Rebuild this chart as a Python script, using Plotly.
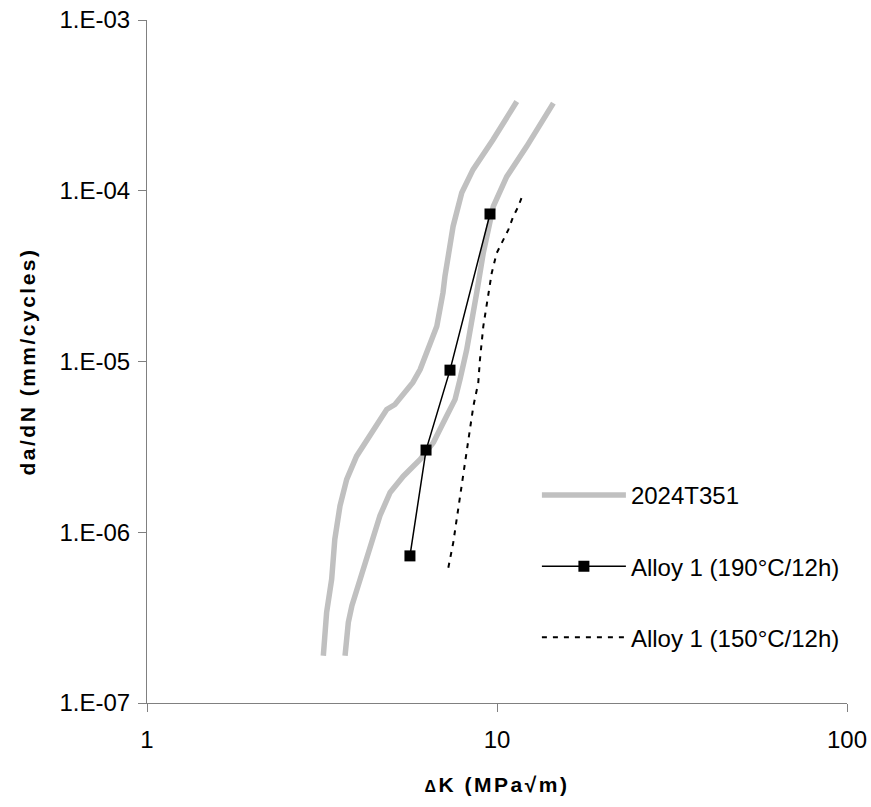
import plotly.graph_objects as go

# 2024T351 scatter band, left and right bounds
band_left_dk = [3.19, 3.26, 3.37, 3.44, 3.56, 3.72, 3.97, 4.34, 4.84, 5.11, 5.75, 6.03,
                6.73, 7.01, 7.10, 7.49, 7.93, 8.54, 9.74, 11.39]
band_left_dadn = [1.89e-7, 3.40e-7, 5.31e-7, 9.1e-7, 1.43e-6, 2.04e-6, 2.79e-6, 3.66e-6,
                  5.24e-6, 5.6e-6, 7.54e-6, 8.98e-6, 1.61e-5, 2.53e-5, 3.15e-5, 6.18e-5,
                  9.73e-5, 1.33e-4, 1.99e-4, 3.33e-4]

band_right_dk = [3.68, 3.76, 3.85, 4.06, 4.34, 4.63, 4.95, 5.40, 6.03, 6.58, 7.18, 7.59,
                 7.84, 8.19, 8.75, 9.14, 9.76, 10.66, 12.16, 14.49]
band_right_dadn = [1.89e-7, 2.96e-7, 3.71e-7, 5.31e-7, 8.3e-7, 1.25e-6, 1.71e-6, 2.13e-6,
                   2.67e-6, 3.35e-6, 4.79e-6, 6.0e-6, 7.85e-6, 1.17e-5, 2.53e-5, 4.34e-5,
                   8.1e-5, 1.21e-4, 1.82e-4, 3.26e-4]

# Alloy 1 (190°C/12h)
a190_dk = [5.64, 6.27, 7.34, 9.55]
a190_dadn = [7.27e-7, 3.03e-6, 8.9e-6, 7.31e-5]

# Alloy 1 (150°C/12h)
a150_dk = [7.26, 7.50, 7.67, 7.84, 8.01, 8.19, 8.37, 8.56, 8.84, 8.94, 9.14, 9.44,
           9.66, 9.98, 10.42, 10.77, 11.13, 11.51, 11.84]
a150_dadn = [6.2e-7, 8.7e-7, 1.19e-6, 1.63e-6, 2.23e-6, 3.06e-6, 4.19e-6, 5.48e-6,
             7.5e-6, 1.03e-5, 1.61e-5, 2.52e-5, 3.3e-5, 4.32e-5, 5.17e-5, 5.9e-5,
             7.07e-5, 8.1e-5, 9.48e-5]

y_tickvals = [1e-7, 1e-6, 1e-5, 1e-4, 1e-3]
y_ticktext = ["1.E-07", "1.E-06", "1.E-05", "1.E-04", "1.E-03"]
x_tickvals = [1, 10, 100]
x_ticktext = ["1", "10", "100"]

FONT = "Liberation Sans, Arial, sans-serif"
GREY = "#c0c0c0"

fig = go.Figure()

fig.add_trace(go.Scatter(
    x=band_left_dk, y=band_left_dadn, mode="lines", name="2024T351",
    line=dict(color=GREY, width=5.5), legendgroup="a"
))
fig.add_trace(go.Scatter(
    x=band_right_dk, y=band_right_dadn, mode="lines", name="2024T351",
    line=dict(color=GREY, width=5.5), showlegend=False, legendgroup="a"
))
fig.add_trace(go.Scatter(
    x=a190_dk, y=a190_dadn, mode="lines+markers", name="Alloy 1 (190°C/12h)",
    line=dict(color="black", width=1.5),
    marker=dict(symbol="square", size=11, color="black"), legendgroup="b"
))
fig.add_trace(go.Scatter(
    x=a150_dk, y=a150_dadn, mode="lines", name="Alloy 1 (150°C/12h)",
    line=dict(color="black", width=2, dash="5px,6px"), legendgroup="c"
))

axis_common = dict(
    showgrid=False, zeroline=False, showline=True, linecolor="#808080", linewidth=1.2,
    ticks="outside", ticklen=8, tickcolor="#808080", tickwidth=1.2,
    tickfont=dict(family=FONT, size=24, color="black"),
    automargin=False,
)

fig.update_layout(
    width=871, height=807,
    margin=dict(l=147, r=24, t=20, b=104),
    paper_bgcolor="white", plot_bgcolor="white",
    font=dict(family=FONT, color="black"),
    xaxis=dict(
        type="log", range=[0, 2], tickvals=x_tickvals, ticktext=x_ticktext,
        ticklabelstandoff=7,
        title=dict(text="<span style='letter-spacing:2.5px'><b><span style='font-size:16px'>Δ</span>K (MPa√m)</b></span>",
                   font=dict(family=FONT, size=21), standoff=25),
        **axis_common
    ),
    yaxis=dict(
        type="log", range=[-7, -3], tickvals=y_tickvals, ticktext=y_ticktext,
        ticklabelstandoff=3,
        title=dict(text="<span style='letter-spacing:2.5px'><b>da/dN (mm/cycles)</b></span>",
                   font=dict(family=FONT, size=21), standoff=18),
        **axis_common
    ),
    legend=dict(
        x=0.557, y=0.337, xanchor="left", yanchor="top",
        font=dict(family=FONT, size=24), bgcolor="rgba(0,0,0,0)",
        tracegroupgap=37, itemwidth=84,
    ),
)

fig.write_html("out.html", config={"displayModeBar": False},
               post_script="document.body.style.margin='0';")
